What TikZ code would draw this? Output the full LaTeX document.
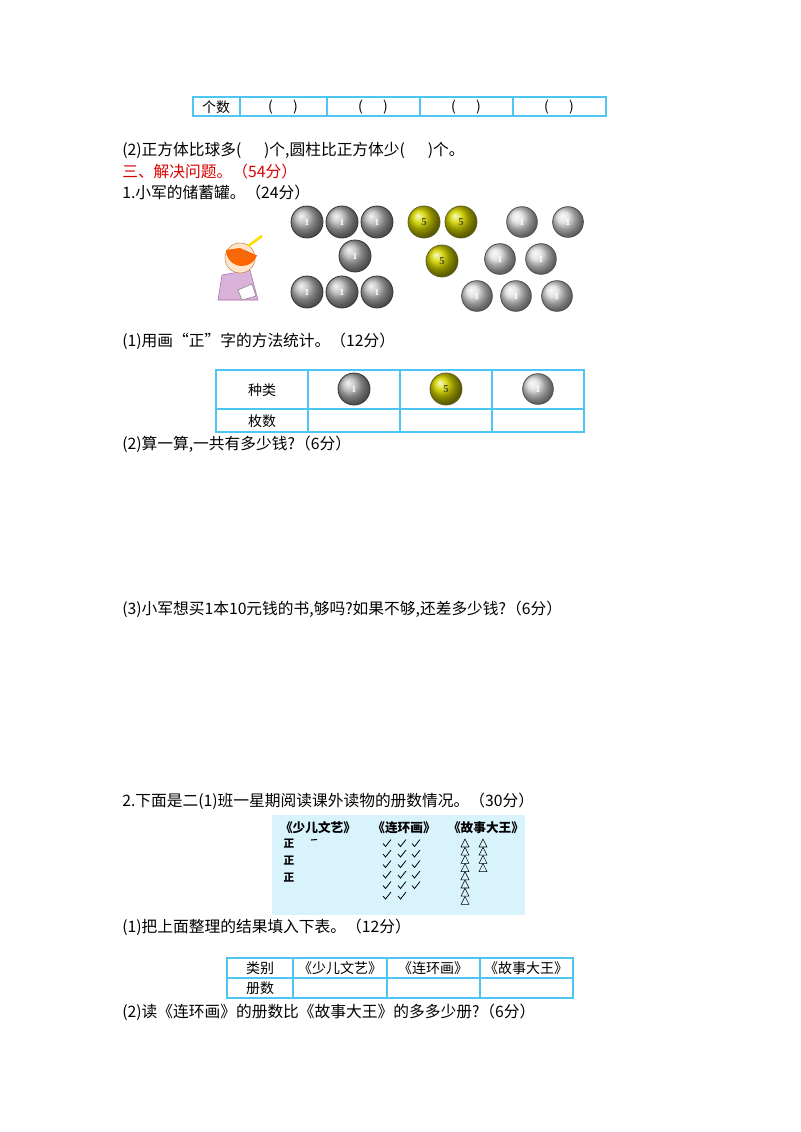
\documentclass[tikz,border=0pt]{standalone}
\usepackage{fontspec}
\setmainfont{Liberation Serif}
\newfontfamily\cjk{Noto Sans CJK SC}
\begin{document}
\begin{tikzpicture}[x=0.75pt,y=-0.75pt,
  txt/.style={anchor=west,inner sep=0,font=\cjk\fontsize{11.8}{13}\selectfont},
  cell/.style={inner sep=0,font=\cjk\fontsize{10.5}{12}\selectfont},
  tline/.style={draw=cyan!70,line width=0.8pt},
  big/.style={circle,minimum size=24pt,inner sep=0,draw=gray!40!black,line width=0.6pt,ball color=gray!60,font=\bfseries\scriptsize,text=white},
  gold/.style={circle,minimum size=24pt,inner sep=0,draw=olive!60!black,line width=0.6pt,ball color=yellow!60!olive,font=\bfseries\footnotesize,text=olive!40!black},
  small/.style={circle,minimum size=23pt,inner sep=0,draw=gray!60!black,line width=0.6pt,ball color=gray!30,font=\bfseries\scriptsize,text=white},
]
\useasboundingbox (0,0) rectangle (800,1132);
% table 1
\draw[tline] (193,97) rectangle (606,116);
\foreach \x in {240,327,420,513} \draw[tline] (\x,97) -- (\x,116);
\node[cell] (g0) at (216,107) {个数};
\foreach \x/\n in {283/a,373/b,466/c,559/d} \node[cell] (g\n) at (\x,107) {(\quad\ \ )};
\node[txt] (t1) at (122,150) {(2)正方体比球多(\quad\ \ )个,圆柱比正方体少(\quad\ \ )个。};
\node[txt,text=red!85!black] (t2) at (122,172) {三、解决问题。（54分）};
\node[txt] (t3) at (122,193) {1.小军的储蓄罐。（24分）};
% kid
\fill[violet!30] (218,300) -- (222,275) -- (250,270) -- (258,300) -- cycle;
\draw[violet!60] (218,300) -- (222,275) -- (250,270) -- (258,300) -- cycle;
\fill[orange!20] (240,258) circle (15);
\draw[brown] (240,258) circle (15);
\fill[orange!80!red] (226,250) arc (180:20:16) -- (240,248) -- cycle;
\draw[brown] (234,256) circle (3) (246,254) circle (3);
\fill[white] (238,290) -- (252,284) -- (256,296) -- (242,300) -- cycle;
\draw[gray] (238,290) -- (252,284) -- (256,296) -- (242,300) -- cycle;
\draw[yellow!80!orange,line width=2pt] (248,246) -- (262,236);
% coins
\foreach \x/\y/\n in {307/222/a,342/222/b,377/222/c,355/256/d,307/292/e,342/292/f,377/292/g}
  \node[big] (b\n) at (\x,\y) {1};
\foreach \x/\y/\n in {424/222/a,461/222/b,442/261/c}
  \node[gold] (y\n) at (\x,\y) {5};
\foreach \x/\y/\n in {522/222/a,568/222/b,500/259/c,541/259/d,477/296/e,516/296/f,557/296/g}
  \node[small] (s\n) at (\x,\y) {1};
\node[txt] (t4) at (122,341) {(1)用画“正”字的方法统计。（12分）};
% table 2
\draw[tline] (216,370) rectangle (584,432);
\draw[tline] (216,409) -- (584,409);
\foreach \x in {308,400,492} \draw[tline] (\x,370) -- (\x,432);
\node[cell] (k1) at (262,390) {种类};
\node[cell] (k2) at (262,421) {枚数};
\node[big] (c1) at (354,389) {1};
\node[gold] (c2) at (446,389) {5};
\node[small] (c3) at (538,389) {1};
\node[txt] (t5) at (122,444) {(2)算一算,一共有多少钱?（6分）};
\node[txt] (t6) at (122,609) {(3)小军想买1本10元钱的书,够吗?如果不够,还差多少钱?（6分）};
\node[txt] (t7) at (122,801) {2.下面是二(1)班一星期阅读课外读物的册数情况。（30分）};
% reading box
\fill[cyan!15] (272,815) rectangle (525,915);
\node[cell,font=\cjk\bfseries\fontsize{9.5}{10}\selectfont] (h1) at (318,828) {《少儿文艺》};
\node[cell,font=\cjk\bfseries\fontsize{9.5}{10}\selectfont] (h2) at (404,828) {《连环画》};
\node[cell,font=\cjk\bfseries\fontsize{9.5}{10}\selectfont] (h3) at (486,828) {《故事大王》};
\foreach \y/\n in {844/a,861/b,878/c} \node[cell,font=\cjk\bfseries\fontsize{8}{9}\selectfont] (z\n) at (289,\y) {正};
\draw[line width=0.8pt] (311,840) -- (317,839.5);
\foreach \x/\m in {387/6,402/6,416/5}
  \foreach \i in {1,...,\m} \draw[line width=0.6pt] ({\x-4},{833+10.5*\i}) -- ({\x-1.5},{836+10.5*\i}) -- ({\x+4},{829+10.5*\i});
\foreach \i in {1,...,8} \draw (461,{847+8.2*(\i-1)}) -- (465,{839+8.2*(\i-1)}) -- (469,{847+8.2*(\i-1)}) -- cycle;
\foreach \i in {1,...,4} \draw (479,{847+8.2*(\i-1)}) -- (483,{839+8.2*(\i-1)}) -- (487,{847+8.2*(\i-1)}) -- cycle;
\node[txt] (t8) at (122,927) {(1)把上面整理的结果填入下表。（12分）};
% table 3
\draw[tline] (227,958) rectangle (573,998);
\draw[tline] (227,978) -- (573,978);
\foreach \x in {293,387,480} \draw[tline] (\x,958) -- (\x,998);
\node[cell] (r0) at (260,968) {类别};
\node[cell] (r1) at (340,968) {《少儿文艺》};
\node[cell] (r2) at (433,968) {《连环画》};
\node[cell] (r3) at (526,968) {《故事大王》};
\node[cell] (r4) at (260,988) {册数};
\node[txt] (t9) at (122,1012) {(2)读《连环画》的册数比《故事大王》的多多少册?（6分）};
\end{tikzpicture}
\end{document}
